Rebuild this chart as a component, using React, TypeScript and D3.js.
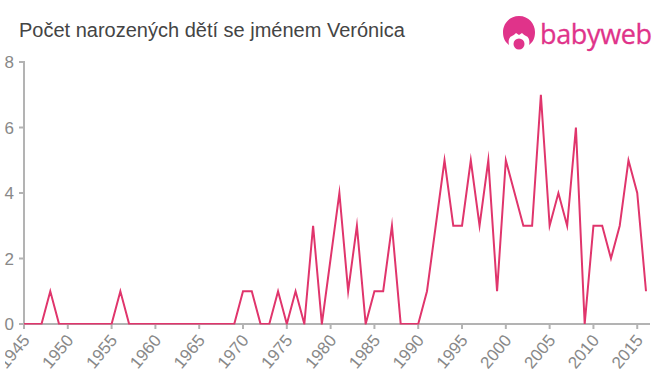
import React from "react";
import * as d3 from "d3";

const title = "Počet narozených dětí se jménem Verónica";
const startYear = 1945;
const values = [0,0,0,1,0,0,0,0,0,0,0,1,0,0,0,0,0,0,0,0,0,0,0,0,0,1,1,0,0,1,0,1,0,3,0,2,4,1,3,0,1,1,3,0,0,0,1,3,5,3,3,5,3,5,1,5,4,3,3,7,3,4,3,6,0,3,3,2,3,5,4,1];
const yTicks = [0,2,4,6,8];
const xTicks = [1945,1950,1955,1960,1965,1970,1975,1980,1985,1990,1995,2000,2005,2010,2015];
const years = values.map((_, i) => startYear + i);

const FONT = "'Liberation Sans', Arial, sans-serif";

export default function App() {
  const x = d3.scaleLinear().domain([1945, 2016]).range([24, 646]);
  const y = d3.scaleLinear().domain([0, 8]).range([324, 62]);
  const line = d3.line<number>().x((_, i) => x(years[i])).y(d => y(d)).curve(d3.curveLinear);
  return (
    <svg width={660} height={375} style={{ position: "absolute", left: 0, top: 0 }} fontFamily={FONT}>
      <defs>
        <clipPath id="plot"><rect x={24} y={40} width={630} height={284.5} /></clipPath>
        <clipPath id="labels"><rect x={5} y={0} width={655} height={375} /></clipPath>
      </defs>
      <text x={19} y={37} fontSize={20} fill="#444">{title}</text>

      <g fill="#e0338a">
        <path d="M519 16 C509 16 503 24 503 32 C503 38 505 42 509 45 C508 41 509 37 512 36 C514 35 515 34 516 33 L519 35 L522 33 C523 34 524 35 526 36 C529 37 530 41 529 45 C533 42 535 38 535 32 C535 24 529 16 519 16 Z" />
        <circle cx={519} cy={44} r={5.5} />
        <text x={540} y={44} fontSize={27} fontFamily="'Open Sans', sans-serif" stroke="#e0338a" strokeWidth={0.3} letterSpacing={-0.35}>babyweb</text>
      </g>

      <g stroke="#b3b3b3" strokeWidth={2} fill="none">
        <path d={`M19 ${y(8)}H24V${y(0)}`} />
        <path d={`M24 ${y(0)}H650`} />
        {yTicks.map(t => <path key={t} d={`M19 ${y(t)}H24`} />)}
        {xTicks.map(t => <path key={t} d={`M${x(t)} ${y(0)}V${y(0) + 5}`} />)}
      </g>
      <g fontSize={17} fill="#888">
        {yTicks.map(t => (
          <text key={t} x={14} y={y(t) + 6} textAnchor="end">{t}</text>
        ))}
        <g clipPath="url(#labels)">
          {xTicks.map(t => (
            <text key={t} textAnchor="end" transform={`translate(${x(t) + 2} ${y(0) + 13}) rotate(-50)`} dy={6}>{t}</text>
          ))}
        </g>
      </g>
      <path d={line(values) ?? ""} clipPath="url(#plot)" fill="none" stroke="#e0356c" strokeWidth={2} strokeLinejoin="miter" strokeMiterlimit={10.5} />
    </svg>
  );
}
